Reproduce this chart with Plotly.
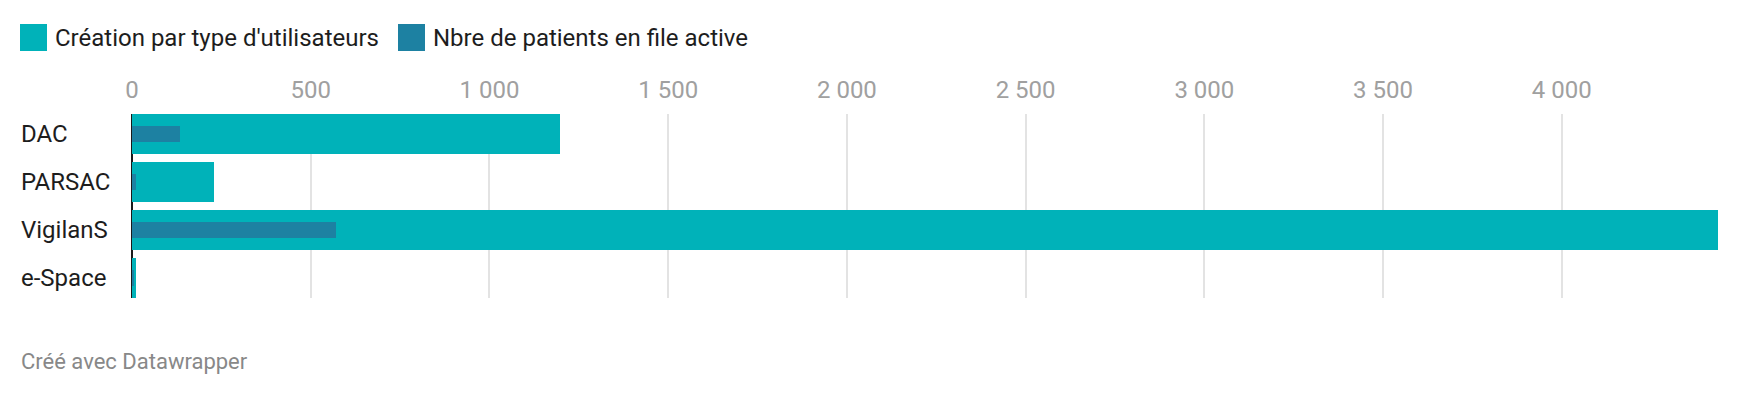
import plotly.graph_objects as go

categories = ["DAC", "PARSAC", "VigilanS", "e-Space"]
creation = [1196, 229, 4437, 11]
patients = [134, 11, 571, 3]
series_names = ["Création par type d'utilisateurs", "Nbre de patients en file active"]
tick_vals = [0, 500, 1000, 1500, 2000, 2500, 3000, 3500, 4000]
footer = "Créé avec Datawrapper"

C1 = "#00b2b9"
C2 = "#1d81a2"
W, H = 1740, 396
L, R, T, B = 132, 22, 114, 98
FONT = "Roboto"
FS = 24

def px_x(p):
    return (p - L) / (W - L - R)

def px_y(p):
    return 1 - (p - T) / (H - T - B)

fig = go.Figure()
fig.add_trace(go.Bar(y=categories, x=creation, orientation="h", marker_color=C1,
                     width=40 / 48, name=series_names[0], showlegend=False,
                     marker_line_width=0))
fig.add_trace(go.Bar(y=categories, x=patients, orientation="h", marker_color=C2,
                     width=16 / 48, name=series_names[1], showlegend=False,
                     marker_line_width=0))

shapes = []
annotations = []
# legend
leg = [(20, 53, C1, series_names[0]), (398, 431, C2, series_names[1])]
for sx, tx, col, name in leg:
    shapes.append(dict(type="rect", xref="paper", yref="paper",
                       x0=px_x(sx), x1=px_x(sx + 27), y0=px_y(24), y1=px_y(51),
                       fillcolor=col, line_width=0))
    annotations.append(dict(text=name, xref="paper", yref="paper", x=px_x(tx), y=px_y(37.5),
                            xanchor="left", yanchor="middle", showarrow=False,
                            font=dict(family=FONT, size=FS, color="#1d1d1d")))
# category labels (left aligned)
for c in categories:
    annotations.append(dict(text=c, xref="paper", yref="y", x=px_x(19), y=c,
                            xanchor="left", yanchor="middle", showarrow=False,
                            font=dict(family=FONT, size=FS, color="#1d1d1d")))
# footer
annotations.append(dict(text=footer, xref="paper", yref="paper", x=px_x(19), y=px_y(361),
                        xanchor="left", yanchor="middle", showarrow=False,
                        font=dict(family=FONT, size=22, color="#888888")))

fig.update_layout(
    width=W, height=H,
    margin=dict(l=L, r=R, t=T, b=B, pad=0),
    paper_bgcolor="white", plot_bgcolor="white",
    barmode="overlay", bargap=0,
    separators=", ",
    font=dict(family=FONT),
    shapes=shapes, annotations=annotations,
    xaxis=dict(side="top", range=[0, max(creation)], tickvals=tick_vals, tickformat=",d",
               showgrid=True, gridcolor="#e3e3e3", gridwidth=2,
               zeroline=True, zerolinecolor="#1a1a1a", zerolinewidth=2,
               showline=False, ticks="", ticklabelstandoff=10,
               tickfont=dict(family=FONT, size=FS, color="#a0a0a0"), fixedrange=True),
    yaxis=dict(categoryorder="array", categoryarray=categories,
               range=[3.5 - 4 / 48, -0.5 + 4 / 48], showticklabels=False,
               showgrid=False, zeroline=False, showline=False, ticks=""),
)

fig.write_html("out.html")
